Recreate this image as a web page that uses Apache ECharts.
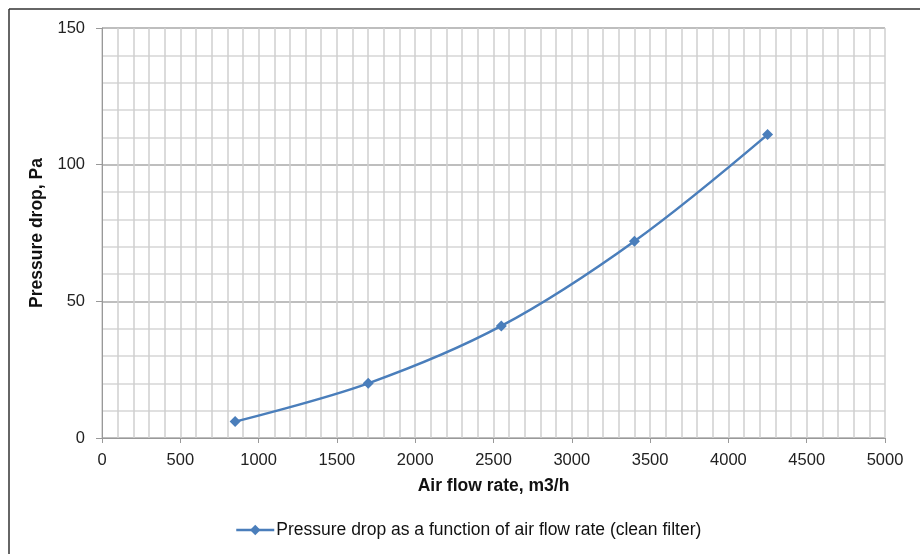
<!DOCTYPE html>
<html lang="en">
  <head>
    <meta charset="UTF-8" />
    <script src="https://cdn.jsdelivr.net/npm/echarts@6.0.0/dist/echarts.min.js"></script>
    <title>Pressure drop</title>
    <style>
      body { margin: 0; background: #fff; }
      #container { width: 920px; height: 554px; }
    </style>
  </head>
  <body>
    <div id="container"></div>
    <script>
      const airFlow = [850, 1700, 2550, 3400, 4250];
      const pressureDrop = [6, 20, 41, 72, 111];
      const seriesName = "Pressure drop as a function of air flow rate (clean filter)";

      const chart = echarts.init(document.getElementById("container"), null, { renderer: "canvas" });
      const font = "Liberation Sans, Arial, sans-serif";

      const option = {
        animation: false,
        textStyle: { fontFamily: font },
        graphic: [
          { type: "line", shape: { x1: 9, y1: 9, x2: 920, y2: 9 }, style: { stroke: "#333", lineWidth: 1.5 } },
          { type: "line", shape: { x1: 9, y1: 9, x2: 9, y2: 554 }, style: { stroke: "#333", lineWidth: 1.5 } }
        ],
        grid: { left: 102, right: 35, top: 28, bottom: 116 },
        legend: {
          bottom: 10,
          left: 230,
          itemWidth: 38,
          itemHeight: 13,
          itemGap: 2,
          textStyle: { fontSize: 17.5, color: "#111", fontFamily: font, padding: [0, 0, 0, -3] },
          lineStyle: { width: 2.5 },
          data: [seriesName]
        },
        xAxis: {
          type: "value",
          min: 0,
          max: 5000,
          interval: 500,
          name: "Air flow rate, m3/h",
          nameLocation: "middle",
          nameGap: 39,
          nameTextStyle: { fontSize: 17.5, fontWeight: "bold", color: "#111" },
          axisLine: { lineStyle: { color: "#999" } },
          axisTick: { show: true, length: 5, lineStyle: { color: "#999" } },
          axisLabel: { fontSize: 16.5, color: "#222", margin: 14, formatter: (v) => String(v) },
          splitLine: { show: true, lineStyle: { color: "#cfcfcf", width: 1.5 } },
          minorTick: { show: false, splitNumber: 5 },
          minorSplitLine: { show: true, lineStyle: { color: "#cfcfcf", width: 1.5 } }
        },
        yAxis: {
          type: "value",
          min: 0,
          max: 150,
          interval: 50,
          name: "Pressure drop, Pa",
          nameLocation: "middle",
          nameGap: 51,
          nameTextStyle: { fontSize: 17.5, fontWeight: "bold", color: "#111" },
          axisLine: { show: true, lineStyle: { color: "#999" } },
          axisTick: { show: true, length: 6, lineStyle: { color: "#999" } },
          axisLabel: { fontSize: 16.5, color: "#222", margin: 17 },
          splitLine: { show: true, lineStyle: { color: "#a8a8a8", width: 1.5 } },
          minorTick: { show: false, splitNumber: 5 },
          minorSplitLine: { show: true, lineStyle: { color: "#d6d6d6", width: 1.5 } }
        },
        series: [
          {
            name: seriesName,
            type: "line",
            smooth: 0.35,
            data: airFlow.map((x, i) => [x, pressureDrop[i]]),
            symbol: "diamond",
            symbolSize: 11,
            showAllSymbol: true,
            lineStyle: { color: "#4a7ebb", width: 2.5 },
            itemStyle: { color: "#4a7ebb" }
          }
        ]
      };

      chart.setOption(option);
      window.addEventListener("resize", chart.resize);
    </script>
  </body>
</html>
